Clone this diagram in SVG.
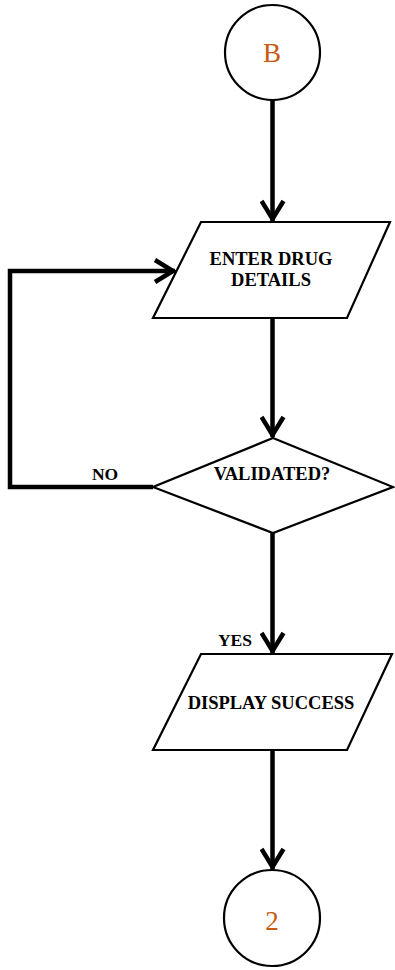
<svg xmlns="http://www.w3.org/2000/svg" width="395" height="970" viewBox="0 0 395 970">
<style>
.shape{fill:#fff;stroke:#000;stroke-width:2.2}
.conn{fill:none;stroke:#000;stroke-width:4.5}
.lbl{font-family:"Liberation Serif","Times New Roman",serif;font-weight:bold;font-size:18.5px;fill:#000;text-anchor:middle}
.sm{font-size:17.5px}
.con{font-family:"Liberation Serif","Times New Roman",serif;font-size:27px;fill:#C55A11;text-anchor:middle}
</style>
<defs>
<marker id="arr" viewBox="0 0 26 26" refX="23" refY="13" markerWidth="26" markerHeight="26" markerUnits="userSpaceOnUse" orient="auto">
<path d="M3,2 L21,13 L3,24" fill="none" stroke="#000" stroke-width="4.5"/>
</marker>
</defs>
<g id="connectors">
<path class="conn" d="M272.5,100 L272.5,221" marker-end="url(#arr)"/>
<path class="conn" d="M272.5,318 L272.5,437" marker-end="url(#arr)"/>
<path class="conn" d="M272.5,533 L272.5,653" marker-end="url(#arr)"/>
<path class="conn" d="M272.5,750 L272.5,869" marker-end="url(#arr)"/>
<path class="conn" d="M153,487 L10,487 L10,271 L175,271" marker-end="url(#arr)"/>
</g>
<g id="nodeB">
<circle class="shape" cx="272.5" cy="52.5" r="47.5"/>
<text class="con" x="272" y="62">B</text>
</g>
<g id="enterDrug">
<polygon class="shape" points="201,222 390,222 347,318 153,318"/>
<text class="lbl" x="271" y="265">ENTER DRUG</text>
<text class="lbl" x="271" y="286">DETAILS</text>
</g>
<g id="validated">
<polygon class="shape" points="273,438 393,487 273,533 153,487"/>
<text class="lbl" x="272" y="480">VALIDATED?</text>
</g>
<g id="displaySuccess">
<polygon class="shape" points="201,654 392,654 347,750 153,750"/>
<text class="lbl" x="271" y="709">DISPLAY SUCCESS</text>
</g>
<g id="node2">
<circle class="shape" cx="272" cy="918" r="48"/>
<text class="con" x="272" y="930">2</text>
</g>
<g id="labels">
<text class="lbl sm" x="105" y="480">NO</text>
<text class="lbl sm" x="235" y="646">YES</text>
</g>
</svg>
